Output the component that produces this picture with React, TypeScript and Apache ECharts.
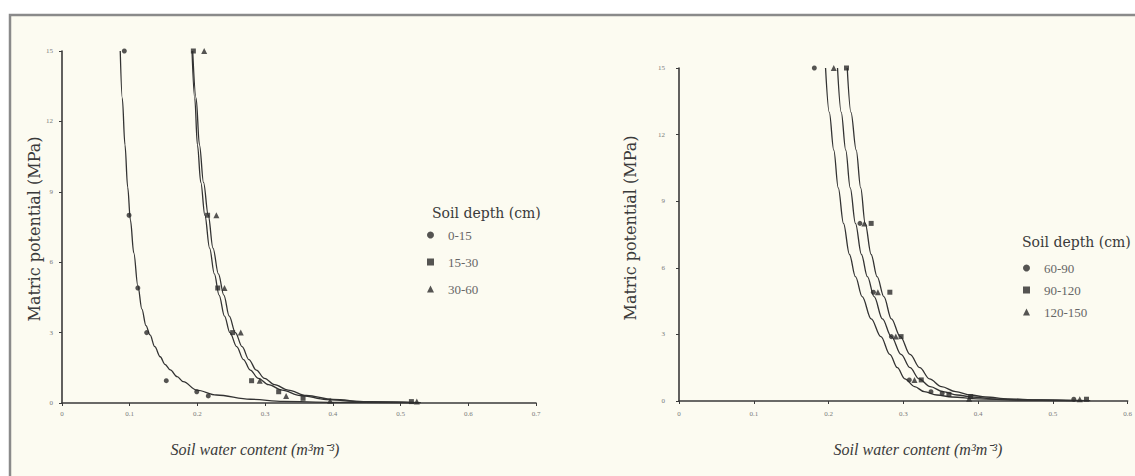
import React, { useEffect, useRef } from "react";
import * as echarts from "echarts";

// ---------- tick values ----------
const yTicks = [0, 3, 6, 9, 12, 15];
const leftXTicks = [0, 0.1, 0.2, 0.3, 0.4, 0.5, 0.6, 0.7];
const rightXTicks = [0, 0.1, 0.2, 0.3, 0.4, 0.5, 0.6];

// ---------- legend names ----------
const leftDepths = ["0-15", "15-30", "30-60"];
const rightDepths = ["60-90", "90-120", "120-150"];
const symbols = ["circle", "rect", "triangle"];

// ---------- left panel: observed points [water content, MPa] ----------
const pts0_15 = [[0.092, 15], [0.099, 8], [0.112, 4.9], [0.125, 3], [0.154, 0.95], [0.199, 0.48], [0.216, 0.3]];
const pts15_30 = [[0.194, 15], [0.215, 8], [0.23, 4.9], [0.252, 3], [0.28, 0.95], [0.32, 0.48], [0.356, 0.2], [0.516, 0.06]];
const pts30_60 = [[0.21, 15], [0.228, 8], [0.24, 4.9], [0.264, 3], [0.292, 0.95], [0.331, 0.3], [0.396, 0.1], [0.524, 0.06]];

// ---------- left panel: fitted curves ----------
const fit0_15 = [[0.086, 15], [0.089, 13], [0.093, 11], [0.097, 9.2], [0.101, 7.8], [0.106, 6.4], [0.112, 5.0], [0.118, 4.0], [0.124, 3.3], [0.13, 2.9], [0.137, 2.4], [0.145, 1.97], [0.152, 1.65], [0.16, 1.41], [0.17, 1.12], [0.179, 0.91], [0.199, 0.55], [0.228, 0.34], [0.278, 0.16], [0.327, 0.07], [0.4, 0.03], [0.52, 0.01]];
const fit15_30 = [[0.192, 15], [0.196, 13], [0.2, 11], [0.205, 9.4], [0.211, 8], [0.218, 6.6], [0.225, 5.5], [0.232, 4.6], [0.24, 3.7], [0.248, 3.0], [0.258, 2.4], [0.268, 1.85], [0.278, 1.4], [0.29, 1.05], [0.305, 0.78], [0.325, 0.55], [0.352, 0.32], [0.39, 0.15], [0.44, 0.06], [0.52, 0.02]];
const fit30_60 = [[0.193, 15], [0.198, 13], [0.203, 11], [0.209, 9.4], [0.216, 8], [0.223, 6.6], [0.231, 5.5], [0.239, 4.6], [0.247, 3.7], [0.256, 3.0], [0.266, 2.4], [0.276, 1.85], [0.287, 1.4], [0.299, 1.05], [0.314, 0.78], [0.334, 0.55], [0.361, 0.32], [0.4, 0.15], [0.45, 0.06], [0.53, 0.02]];

// ---------- right panel: observed points ----------
const pts60_90 = [[0.181, 15], [0.242, 8], [0.26, 4.9], [0.284, 2.9], [0.308, 0.95], [0.337, 0.42], [0.352, 0.35], [0.528, 0.08]];
const pts90_120 = [[0.224, 15], [0.257, 8], [0.282, 4.9], [0.297, 2.9], [0.324, 0.95], [0.361, 0.3], [0.39, 0.2], [0.545, 0.08]];
const pts120_150 = [[0.207, 15], [0.248, 8], [0.266, 4.9], [0.29, 2.9], [0.315, 0.95], [0.388, 0.1], [0.536, 0.08]];

// ---------- right panel: fitted curves ----------
const fit60_90 = [[0.196, 15], [0.201, 13], [0.207, 11.3], [0.213, 9.6], [0.22, 8], [0.228, 6.6], [0.236, 5.6], [0.245, 4.7], [0.257, 3.7], [0.27, 2.9], [0.282, 2.1], [0.292, 1.5], [0.302, 1.0], [0.315, 0.65], [0.328, 0.42], [0.345, 0.27], [0.365, 0.18], [0.4, 0.1], [0.45, 0.045], [0.53, 0.01]];
const fit90_120 = [[0.212, 15], [0.217, 13], [0.223, 11.3], [0.229, 9.6], [0.236, 8], [0.244, 6.6], [0.252, 5.6], [0.261, 4.7], [0.272, 3.7], [0.284, 2.9], [0.297, 2.1], [0.309, 1.5], [0.321, 1.0], [0.336, 0.65], [0.353, 0.42], [0.372, 0.27], [0.392, 0.18], [0.42, 0.1], [0.46, 0.05], [0.54, 0.015]];
const fit120_150 = [[0.225, 15], [0.23, 13], [0.237, 11.3], [0.243, 9.6], [0.249, 8], [0.257, 6.6], [0.265, 5.6], [0.274, 4.7], [0.284, 3.7], [0.296, 2.9], [0.309, 2.1], [0.322, 1.5], [0.335, 1.0], [0.351, 0.65], [0.37, 0.42], [0.39, 0.27], [0.41, 0.18], [0.44, 0.1], [0.48, 0.05], [0.55, 0.015]];

const leftPts = [pts0_15, pts15_30, pts30_60];
const leftFits = [fit0_15, fit15_30, fit30_60];
const rightPts = [pts60_90, pts90_120, pts120_150];
const rightFits = [fit60_90, fit90_120, fit120_150];

const AX = "#3a3a3a";
const MARK = "#2a2a2a";
const CREAM = "#fcfbf1";
const serif = "Liberation Serif";

function xAxisFor(grid: number, ticks: number[], labelMargin: number) {
  return {
    type: "value",
    gridIndex: grid,
    min: ticks[0],
    max: ticks[ticks.length - 1],
    interval: ticks[1] - ticks[0],
    splitLine: { show: false },
    axisLine: { show: true, onZero: false, lineStyle: { color: AX, width: 1.6 } },
    axisTick: { show: true, length: 3, lineStyle: { color: AX, width: 1 } },
    axisLabel: {
      fontSize: 7,
      color: "#7a7a7a",
      fontFamily: serif,
      margin: labelMargin,
      formatter: (v: number) => (v === 0 ? "0" : v.toFixed(1)),
    },
  };
}

function yAxisFor(grid: number, labelMargin: number) {
  return {
    type: "value",
    gridIndex: grid,
    min: yTicks[0],
    max: yTicks[yTicks.length - 1],
    interval: yTicks[1] - yTicks[0],
    splitLine: { show: false },
    axisLine: { show: true, onZero: false, lineStyle: { color: AX, width: 1.6 } },
    axisTick: { show: true, length: 3, lineStyle: { color: AX, width: 1 } },
    axisLabel: { fontSize: 7, color: "#7a7a7a", fontFamily: serif, margin: labelMargin },
  };
}

function buildSeries(names: string[], pts: number[][][], fits: number[][][], axisIndex: number) {
  const out: any[] = [];
  names.forEach((n, i) => {
    out.push({
      name: "fit " + n,
      type: "line",
      xAxisIndex: axisIndex,
      yAxisIndex: axisIndex,
      data: fits[i],
      showSymbol: false,
      smooth: 0.35,
      smoothMonotone: "x",
      lineStyle: { color: "#333333", width: 1.3 },
      silent: true,
      z: 2,
    });
  });
  names.forEach((n, i) => {
    out.push({
      name: n,
      type: "scatter",
      xAxisIndex: axisIndex,
      yAxisIndex: axisIndex,
      data: pts[i],
      symbol: symbols[i],
      symbolSize: symbols[i] === "triangle" ? 6 : 5,
      itemStyle: { color: MARK },
      z: 3,
    });
  });
  return out;
}

function legendFor(names: string[], left: number, top: number, gap: number) {
  return {
    data: names.map((n, i) => ({ name: n, icon: symbols[i] })),
    orient: "vertical",
    left,
    top,
    padding: 0,
    itemGap: gap,
    itemWidth: 7,
    itemHeight: 7,
    selectedMode: false,
    textStyle: { fontSize: 13, color: "#666", fontFamily: serif, lineHeight: 14, padding: [0, 0, 0, 9] },
    itemStyle: { color: MARK },
  };
}

export default function App() {
  const ref = useRef<HTMLDivElement>(null);
  useEffect(() => {
    if (!ref.current) return;
    const chart = echarts.init(ref.current, undefined, { renderer: "svg" });
    const option: any = {
      animation: false,
      backgroundColor: "#ffffff",
      grid: [
        { left: 62, top: 51, width: 474, height: 352 },
        { left: 679, top: 68, width: 453, height: 333 },
      ],
      xAxis: [xAxisFor(0, leftXTicks, 7), xAxisFor(1, rightXTicks, 9)],
      yAxis: [yAxisFor(0, 9), yAxisFor(1, 14)],
      legend: [
        legendFor(leftDepths, 427, 228, 13),
        legendFor(rightDepths, 1023, 261, 8),
      ],
      graphic: [
        {
          type: "rect",
          z: -100,
          silent: true,
          shape: { x: 10, y: 15, width: 1140, height: 470 },
          style: { fill: CREAM, stroke: "#8a8a8a", lineWidth: 2.5 },
        },
        {
          type: "text",
          x: 34,
          y: 229,
          rotation: Math.PI / 2,
          style: { text: "Matric potential (MPa)", fontSize: 16, fontFamily: "DejaVu Serif", fill: "#3a3a3a", align: "center", verticalAlign: "middle" },
        },
        {
          type: "text",
          x: 630,
          y: 228,
          rotation: Math.PI / 2,
          style: { text: "Matric potential (MPa)", fontSize: 16, fontFamily: "DejaVu Serif", fill: "#3a3a3a", align: "center", verticalAlign: "middle" },
        },
        {
          type: "text",
          x: 255,
          y: 449,
          style: { text: "Soil water content (m³m⁻³)", fontSize: 16, fontStyle: "italic", fontFamily: serif, fill: "#3a3a3a", align: "center", verticalAlign: "middle" },
        },
        {
          type: "text",
          x: 918,
          y: 449,
          style: { text: "Soil water content (m³m⁻³)", fontSize: 16, fontStyle: "italic", fontFamily: serif, fill: "#3a3a3a", align: "center", verticalAlign: "middle" },
        },
        {
          type: "text",
          x: 432,
          y: 213,
          style: { text: "Soil depth (cm)", fontSize: 14, fontFamily: "DejaVu Serif", fill: "#3a3a3a", align: "left", verticalAlign: "middle" },
        },
        {
          type: "text",
          x: 1022,
          y: 242,
          style: { text: "Soil depth (cm)", fontSize: 14, fontFamily: "DejaVu Serif", fill: "#3a3a3a", align: "left", verticalAlign: "middle" },
        },
      ],
      series: [
        ...buildSeries(leftDepths, leftPts, leftFits, 0),
        ...buildSeries(rightDepths, rightPts, rightFits, 1),
      ],
    };
    chart.setOption(option);
    return () => chart.dispose();
  }, []);
  return <div ref={ref} style={{ position: "fixed", left: 0, top: 0, width: 1135, height: 476 }} />;
}
